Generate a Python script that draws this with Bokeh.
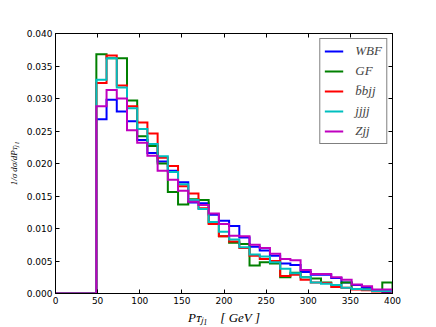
from bokeh.plotting import figure
from bokeh.models import FixedTicker, LinearAxis, NumeralTickFormatter
from bokeh.embed import file_html
from bokeh.resources import INLINE

# ---------------- data ----------------
n_bins = 33
x_min, x_max = 0, 400
bin_edges = [x_min + i * (x_max - x_min) / n_bins for i in range(n_bins + 1)]

series_names = ["WBF", "GF", "b\u0304bjj", "jjjj", "Zjj"]
series_colors = ["#0000ff", "#008000", "#ff0000", "#00bfbf", "#bf00bf"]

wbf = [0, 0, 0, 0,
       0.0268, 0.0298, 0.0280, 0.0265, 0.0236, 0.0216, 0.0203, 0.0189, 0.0171, 0.0140,
       0.0139, 0.0121, 0.0112, 0.0104, 0.0086, 0.0072, 0.0066, 0.0058, 0.0046, 0.0044,
       0.0033, 0.0029, 0.0029, 0.0024, 0.0017, 0.0013, 0.0009, 0.0005, 0.0002]
gf = [0, 0, 0, 0,
      0.0368, 0.0362, 0.0362, 0.0297, 0.0242, 0.0227, 0.0200, 0.0156, 0.0137, 0.0145,
      0.0144, 0.0108, 0.0088, 0.0078, 0.0076, 0.0043, 0.0048, 0.0046, 0.0025, 0.0032,
      0.0025, 0.0023, 0.0017, 0.0013, 0.0017, 0.0007, 0.0006, 0.0005, 0.0017]
bbjj = [0, 0, 0, 0,
        0.0324, 0.0366, 0.0320, 0.0288, 0.0263, 0.0246, 0.0209, 0.0196, 0.0165, 0.0154,
        0.0131, 0.0107, 0.0088, 0.0080, 0.0070, 0.0058, 0.0053, 0.0050, 0.0027, 0.0029,
        0.0021, 0.0017, 0.0016, 0.0010, 0.0009, 0.0006, 0.0005, 0.0003, 0.0003]
jjjj = [0, 0, 0, 0,
        0.0329, 0.0362, 0.0317, 0.0285, 0.0253, 0.0230, 0.0211, 0.0187, 0.0168, 0.0144,
        0.0130, 0.0110, 0.0095, 0.0083, 0.0071, 0.0060, 0.0057, 0.0048, 0.0038, 0.0031,
        0.0025, 0.0017, 0.0015, 0.0013, 0.0009, 0.0007, 0.0006, 0.0004, 0.0004]
zjj = [0, 0, 0, 0,
       0.0288, 0.0313, 0.0300, 0.0251, 0.0232, 0.0212, 0.0189, 0.0175, 0.0158, 0.0141,
       0.0136, 0.0123, 0.0107, 0.0089, 0.0088, 0.0075, 0.0070, 0.0061, 0.0053, 0.0051,
       0.0036, 0.0030, 0.0030, 0.0025, 0.0021, 0.0014, 0.0011, 0.0006, 0.0006]
series_values = [wbf, gf, bbjj, jjjj, zjj]

x_ticks = [0, 50, 100, 150, 200, 250, 300, 350, 400]
y_ticks = [0.000, 0.005, 0.010, 0.015, 0.020, 0.025, 0.030, 0.035, 0.040]

x_title = "P\u1d1b\u2c7c\u2081\u00a0\u00a0\u00a0\u00a0[\u00a0GeV\u00a0]"
y_title = "1/\u03c3 d\u03c3/dP\u1d1b\u2c7c\u2081"

# ---------------- figure ----------------
p = figure(width=436, height=327, x_range=(0, 400), y_range=(0, 0.04),
           output_backend="svg", toolbar_location=None,
           min_border_left=55, min_border_right=44, min_border_top=33, min_border_bottom=34)
p.background_fill_color = "white"
p.border_fill_color = "white"
p.outline_line_color = "black"
p.outline_line_width = 1
p.xgrid.visible = False
p.ygrid.visible = False

tick_font = "DejaVu Sans"
for ax, ticks, fmt in ((p.xaxis[0], x_ticks, "0"), (p.yaxis[0], y_ticks, "0.000")):
    ax.ticker = FixedTicker(ticks=ticks)
    ax.formatter = NumeralTickFormatter(format=fmt)
    ax.major_tick_in = 4
    ax.major_tick_out = 0
    ax.minor_tick_line_color = None
    ax.major_label_text_font = tick_font
    ax.major_label_text_font_size = "9px"
    ax.major_label_text_color = "black"
    ax.major_label_standoff = 3
    ax.axis_line_color = "black"
    ax.major_tick_line_color = "black"
    ax.axis_label_text_font = "Liberation Serif"
    ax.axis_label_text_font_style = "italic"
    ax.axis_label_text_color = "black"

p.xaxis[0].axis_label = x_title
p.xaxis[0].axis_label_text_font_size = "13px"
p.xaxis[0].axis_label_standoff = 3
p.yaxis[0].axis_label = y_title
p.yaxis[0].axis_label_text_font_size = "9px"
p.yaxis[0].axis_label_standoff = 5

top_axis = LinearAxis(ticker=FixedTicker(ticks=x_ticks), major_label_text_color=None,
                      major_label_text_font_size="9px",
                      major_tick_in=4, major_tick_out=0, minor_tick_line_color=None,
                      major_label_standoff=0, axis_line_color="black")
right_axis = LinearAxis(ticker=FixedTicker(ticks=y_ticks), major_label_text_color=None,
                        major_label_text_font_size="9px",
                        major_tick_in=4, major_tick_out=0, minor_tick_line_color=None,
                        major_label_standoff=0, axis_line_color="black")
p.add_layout(top_axis, "above")
p.add_layout(right_axis, "right")

for name, color, vals in zip(series_names, series_colors, series_values):
    p.step(x=bin_edges, y=vals + [0], mode="after", line_color=color, line_width=2,
           line_join="miter", legend_label=name)

leg = p.legend[0]
leg.location = "top_right"
leg.margin = 5
leg.padding = 4
leg.spacing = 4
leg.glyph_width = 19
leg.glyph_height = 14
leg.label_height = 14
leg.label_standoff = 12
leg.label_text_font = "Liberation Serif"
leg.label_text_font_style = "italic"
leg.label_text_font_size = "13px"
leg.border_line_color = "black"
leg.border_line_width = 1
leg.background_fill_alpha = 1

open("out.html", "w").write(file_html(p, INLINE))
